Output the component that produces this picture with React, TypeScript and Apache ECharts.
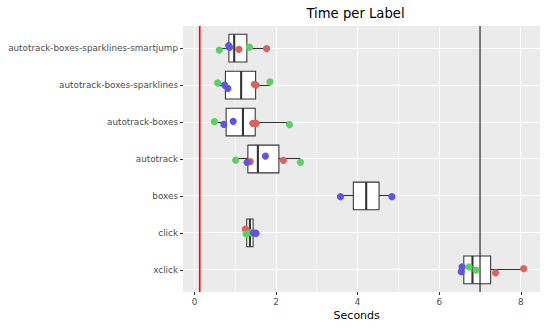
import React, { useEffect, useRef } from 'react';
import * as echarts from 'echarts';

// Categories, bottom to top (ggplot factor order after coord_flip)
const categories = [
  'xclick',
  'click',
  'boxes',
  'autotrack',
  'autotrack-boxes',
  'autotrack-boxes-sparklines',
  'autotrack-boxes-sparklines-smartjump',
];

// [category, seconds, vertical jitter in category units]
type Pt = [string, number, number];

const redPoints: Pt[] = [
  ['autotrack-boxes-sparklines-smartjump', 1.09, -0.03],
  ['autotrack-boxes-sparklines-smartjump', 1.77, -0.01],
  ['autotrack-boxes-sparklines', 1.47, 0.02],
  ['autotrack-boxes-sparklines', 1.51, 0.0],
  ['autotrack-boxes', 1.43, -0.035],
  ['autotrack-boxes', 1.51, -0.035],
  ['autotrack', 1.37, -0.07],
  ['autotrack', 2.18, -0.035],
  ['click', 1.25, 0.1],
  ['click', 1.32, 0.03],
  ['xclick', 7.38, -0.08],
  ['xclick', 8.07, 0.03],
];

const greenPoints: Pt[] = [
  ['autotrack-boxes-sparklines-smartjump', 0.61, -0.05],
  ['autotrack-boxes-sparklines-smartjump', 1.35, 0.03],
  ['autotrack-boxes-sparklines', 0.57, 0.06],
  ['autotrack-boxes-sparklines', 1.85, 0.09],
  ['autotrack-boxes', 0.49, 0.01],
  ['autotrack-boxes', 2.33, -0.07],
  ['autotrack', 1.01, -0.03],
  ['autotrack', 2.6, -0.09],
  ['click', 1.27, -0.03],
  ['click', 1.4, 0.0],
  ['xclick', 6.73, 0.08],
  ['xclick', 6.9, -0.01],
];

const bluePoints: Pt[] = [
  ['autotrack-boxes-sparklines-smartjump', 0.84, 0.07],
  ['autotrack-boxes-sparklines-smartjump', 0.86, 0.02],
  ['autotrack-boxes-sparklines', 0.74, 0.0],
  ['autotrack-boxes-sparklines', 0.82, -0.09],
  ['autotrack-boxes', 0.72, -0.06],
  ['autotrack-boxes', 0.95, 0.02],
  ['autotrack', 1.29, -0.09],
  ['autotrack', 1.74, 0.08],
  ['boxes', 3.58, -0.02],
  ['boxes', 4.84, -0.02],
  ['click', 1.45, 0.0],
  ['click', 1.51, -0.01],
  ['xclick', 6.56, 0.08],
  ['xclick', 6.54, -0.05],
];

const xTicks = [0, 2, 4, 6, 8];
const xMinor = [1, 3, 5, 7];
const xRange = [-0.28, 8.47];
const referenceLines = [0.13, 7];
const referenceColors = ['#FF0000', '#000000'];
const referenceWidths = [1.6, 1];
const titleText = 'Time per Label';
const xTitle = 'Seconds';

const allPoints = [...redPoints, ...greenPoints, ...bluePoints];

function quantile(sorted: number[], p: number) {
  const h = (sorted.length - 1) * p;
  const lo = Math.floor(h);
  const hi = Math.ceil(h);
  return sorted[lo] + (h - lo) * (sorted[hi] - sorted[lo]);
}

const boxData = categories.map((c, i) => {
  const vals = allPoints.filter((p) => p[0] === c).map((p) => p[1]).sort((a, b) => a - b);
  const q1 = quantile(vals, 0.25);
  const med = quantile(vals, 0.5);
  const q3 = quantile(vals, 0.75);
  const iqr = q3 - q1;
  const lo = Math.min(...vals.filter((v) => v >= q1 - 1.5 * iqr));
  const hi = Math.max(...vals.filter((v) => v <= q3 + 1.5 * iqr));
  return [i + 1, lo, q1, med, q3, hi];
});

const toScatter = (pts: Pt[]) => pts.map((p) => [p[1], categories.indexOf(p[0]) + 1 + p[2]]);

const FONT = 'DejaVu Sans';

const snap = (v: number) => Math.round(v - 0.5) + 0.5;

export default function App() {
  const ref = useRef<HTMLDivElement>(null);
  useEffect(() => {
    document.body.style.margin = '0';
    const chart = echarts.init(ref.current!, null, { renderer: 'svg' });
    const vLine = (color: string, width: number, crisp: boolean) => (params: any, api: any) => {
      const cs = params.coordSys;
      let x = api.coord([api.value(0), 1])[0];
      if (crisp) x = snap(x);
      return {
        type: 'line',
        shape: { x1: x, y1: cs.y, x2: x, y2: cs.y + cs.height },
        style: { stroke: color, lineWidth: width },
      };
    };
    const hLine = (color: string, width: number) => (params: any, api: any) => {
      const cs = params.coordSys;
      const y = snap(api.coord([0, api.value(1)])[1]);
      return {
        type: 'line',
        shape: { x1: cs.x, y1: y, x2: cs.x + cs.width, y2: y },
        style: { stroke: color, lineWidth: width },
      };
    };
    const yIdx = categories.map((_, i) => i + 1);
    chart.setOption({
      animation: false,
      textStyle: { fontFamily: FONT },
      grid: {
        left: 183,
        right: 10,
        top: 26,
        bottom: 36,
        show: true,
        backgroundColor: '#EBEBEB',
        borderWidth: 0,
      },
      graphic: [
        {
          type: 'text',
          x: 355.5,
          y: 13,
          style: {
            text: titleText,
            font: `13.2px "${FONT}"`,
            fill: '#000',
            textAlign: 'center',
            textVerticalAlign: 'middle',
          },
        },
        {
          type: 'text',
          x: 356.7,
          y: 315,
          style: {
            text: xTitle,
            font: `11px "${FONT}"`,
            fill: '#000',
            textAlign: 'center',
            textVerticalAlign: 'middle',
          },
        },
      ],
      xAxis: {
        type: 'value',
        min: xRange[0],
        max: xRange[1],
        axisLine: { show: false, onZero: false },
        axisTick: { show: true, customValues: xTicks, length: 3, lineStyle: { color: '#333333' } },
        axisLabel: {
          customValues: xTicks,
          color: '#4D4D4D',
          fontSize: 8.8,
          fontFamily: FONT,
          margin: 5,
        },
        splitLine: { show: false },
      },
      yAxis: {
        type: 'value',
        min: 0.4,
        max: 7.6,
        axisLine: { show: false, onZero: false },
        axisTick: { show: true, customValues: yIdx, length: 3, lineStyle: { color: '#333333' } },
        axisLabel: {
          customValues: yIdx,
          color: '#4D4D4D',
          fontSize: 8.8,
          fontFamily: FONT,
          margin: 5,
          formatter: (v: number) => categories[Math.round(v) - 1] ?? '',
        },
        splitLine: { show: false },
      },
      series: [
        {
          type: 'custom',
          z: 1,
          silent: true,
          data: xMinor.map((v) => [v, 1]),
          encode: { x: 0, y: 1 },
          renderItem: vLine('#FFFFFF', 0.55, false),
        },
        {
          type: 'custom',
          z: 1,
          silent: true,
          data: xTicks.map((v) => [v, 1]),
          encode: { x: 0, y: 1 },
          renderItem: vLine('#FFFFFF', 1, true),
        },
        {
          type: 'custom',
          z: 1,
          silent: true,
          data: yIdx.map((v) => [0, v]),
          encode: { x: 0, y: 1 },
          renderItem: hLine('#FFFFFF', 1),
        },
        {
          type: 'custom',
          z: 3,
          data: boxData,
          encode: { x: [1, 2, 3, 4, 5], y: 0 },
          renderItem: (params: any, api: any) => {
            const y = api.value(0);
            const lo = api.value(1);
            const q1 = api.value(2);
            const med = api.value(3);
            const q3 = api.value(4);
            const hi = api.value(5);
            const pLo = api.coord([lo, y]);
            const pHi = api.coord([hi, y]);
            const pA = api.coord([q1, y + 0.375]);
            const pB = api.coord([q3, y - 0.375]);
            const pM = api.coord([med, y]);
            const stroke = '#333333';
            const yc = snap(pLo[1]);
            return {
              type: 'group',
              children: [
                { type: 'line', shape: { x1: pLo[0], y1: yc, x2: pA[0], y2: yc }, style: { stroke, lineWidth: 1.07 } },
                { type: 'line', shape: { x1: pB[0], y1: yc, x2: pHi[0], y2: yc }, style: { stroke, lineWidth: 1.07 } },
                {
                  type: 'rect',
                  shape: { x: pA[0], y: pA[1], width: pB[0] - pA[0], height: pB[1] - pA[1] },
                  style: { fill: '#FFFFFF', stroke, lineWidth: 1.07 },
                },
                { type: 'line', shape: { x1: pM[0], y1: pA[1], x2: pM[0], y2: pB[1] }, style: { stroke, lineWidth: 2.1 } },
              ],
            };
          },
        },
        {
          type: 'custom',
          z: 4,
          silent: true,
          data: referenceLines.map((v, i) => [v, 1, i]),
          encode: { x: 0, y: 1 },
          renderItem: (params: any, api: any) => {
            const cs = params.coordSys;
            const i = api.value(2);
            const w = referenceWidths[i];
            const x = api.coord([api.value(0), 1])[0];
            return {
              type: 'rect',
              shape: { x: x - w / 2, y: cs.y, width: w, height: cs.height },
              style: { fill: referenceColors[i] },
            };
          },
        },
        {
          type: 'scatter',
          z: 5,
          symbolSize: 7.2,
          itemStyle: { color: '#E0605C', opacity: 1 },
          data: toScatter(redPoints),
        },
        {
          type: 'scatter',
          z: 5,
          symbolSize: 7.2,
          itemStyle: { color: '#57D45D', opacity: 1 },
          data: toScatter(greenPoints),
        },
        {
          type: 'scatter',
          z: 5,
          symbolSize: 7.2,
          itemStyle: { color: '#5D55E4', opacity: 1 },
          data: toScatter(bluePoints),
        },
      ],
    });
    return () => chart.dispose();
  }, []);
  return (
    <div
      ref={ref}
      style={{ width: 550, height: 328, position: 'absolute', left: 0, top: 0 }}
    />
  );
}
